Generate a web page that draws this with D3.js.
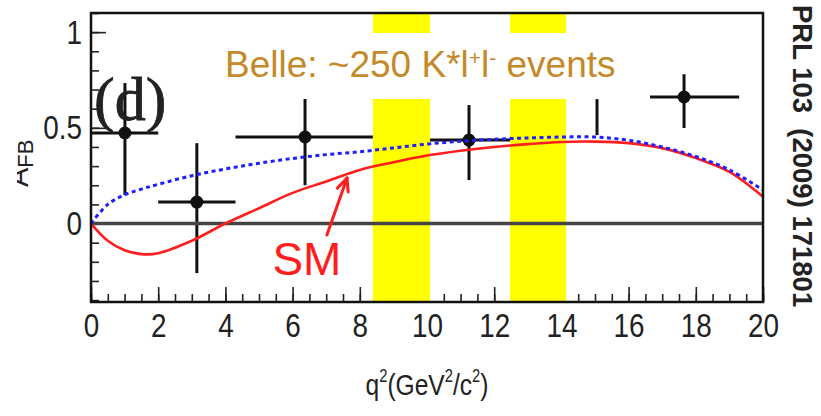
<!DOCTYPE html>
<html>
<head>
<meta charset="utf-8">
<script src="https://cdn.jsdelivr.net/npm/d3@7"></script>
<style>
  html, body { margin: 0; padding: 0; background: #fff; }
  svg { display: block; }
</style>
</head>
<body>
<svg id="chart" width="821" height="416"></svg>
<script>
// Forward-backward asymmetry A_FB versus q^2 (Belle, K* l+ l-)

// Measured bins: centre, bin edges, asymmetry and its error range
const binCentre = [1.01, 3.15, 6.37, 11.25, 17.65];
const binLow    = [0.0, 2.0, 4.3, 10.09, 16.55];
const binHigh   = [2.0, 4.3, 8.68, 12.86, 19.29];
const afbValue  = [0.473, 0.112, 0.452, 0.436, 0.661];
const afbLow    = [0.149, -0.259, 0.20, 0.227, 0.499];
const afbHigh   = [0.734, 0.42, 0.655, 0.619, 0.78];

// Stray error bar segment in the 14.2-16 bin
const strayX    = [15.06];
const strayLow  = [0.462];
const strayHigh = [0.65];

// Theory curves sampled in q^2
const curveQ2   = [0, 0.5, 1, 1.5, 2, 3, 4, 5, 6, 7, 8, 9, 10, 11, 12, 13, 14, 15, 16, 17, 18, 19, 20];
const smAfb     = [0, -0.09, -0.14, -0.16, -0.155, -0.09, 0.0, 0.08, 0.16, 0.22, 0.28, 0.32, 0.355, 0.38, 0.40, 0.415, 0.426, 0.428, 0.42, 0.394, 0.342, 0.27, 0.14];
const flipAfb   = [0, 0.10, 0.15, 0.18, 0.205, 0.25, 0.285, 0.315, 0.34, 0.36, 0.375, 0.395, 0.415, 0.43, 0.44, 0.447, 0.452, 0.452, 0.435, 0.40, 0.35, 0.28, 0.175];

// Charmonium veto windows
const vetoLow  = [8.39, 12.47];
const vetoHigh = [10.09, 14.14];

// Axis ticks
const xMajorTicks = [0, 2, 4, 6, 8, 10, 12, 14, 16, 18, 20];
const xMinorTicks = d3.range(0, 20.01, 0.5);
const yMajorTicks = [0, 0.5, 1];
const yTickLabels = ["0", "0.5", "1"];
const yMinorTicks = d3.range(-0.4, 1.101, 0.1).map(v => +v.toFixed(2));

const svg = d3.select("#chart");
const W = 821, H = 416;
svg.append("rect").attr("width", W).attr("height", H).attr("fill", "#fff");

const frameL = 91, frameR = 763, frameT = 13, frameB = 302;
const x = d3.scaleLinear().domain([0, 20]).range([frameL, frameR]);
const y = d3.scaleLinear().domain([-0.41, 1.1]).range([frameB, frameT]);

const sansFont = "'Liberation Sans', Arial, Helvetica, sans-serif";
const labelSquash = 0.82;   // axis lettering is set in a condensed face

// x axis: ticks pointing into the frame
const gxMinor = svg.append("g").attr("transform", `translate(0,${frameB})`)
  .call(d3.axisBottom(x).tickValues(xMinorTicks).tickSize(-8).tickFormat(""));
const gx = svg.append("g").attr("transform", `translate(0,${frameB})`)
  .call(d3.axisBottom(x).tickValues(xMajorTicks).tickSize(-15).tickPadding(11).tickFormat(d3.format("d")));

// y axis
const gyMinor = svg.append("g").attr("transform", `translate(${frameL},0)`)
  .call(d3.axisLeft(y).tickValues(yMinorTicks).tickSize(-8).tickFormat(""));
const gy = svg.append("g").attr("transform", `translate(${frameL},0)`)
  .call(d3.axisLeft(y).tickValues(yMajorTicks).tickSize(-15).tickPadding(9)
    .tickFormat((d, i) => yTickLabels[i]));

[gxMinor, gx, gyMinor, gy].forEach(g => {
  g.select(".domain").remove();
  g.selectAll(".tick line").attr("stroke", "#222").attr("stroke-width", 1.6);
  g.selectAll("text").attr("font-family", sansFont).attr("font-size", 34).attr("fill", "#222");
});
// condense tick labels around their anchor point
gx.selectAll(".tick text").attr("transform", `scale(${labelSquash},1)`);
gy.selectAll(".tick text").each(function () {
  const t = d3.select(this);
  const tx = +t.attr("x");
  t.attr("transform", `translate(${tx},0) scale(${labelSquash},1) translate(${-tx},0)`);
});

// Data points with error bars
const pts = d3.range(binCentre.length).map(i => ({
  xc: binCentre[i], x0: binLow[i], x1: binHigh[i],
  v: afbValue[i], lo: afbLow[i], hi: afbHigh[i]
}));
const gPts = svg.append("g").attr("stroke", "#111").attr("stroke-width", 3);
gPts.selectAll("line.h").data(pts).join("line").attr("class", "h")
  .attr("x1", d => x(d.x0)).attr("x2", d => x(d.x1))
  .attr("y1", d => y(d.v)).attr("y2", d => y(d.v));
gPts.selectAll("line.v").data(pts).join("line").attr("class", "v")
  .attr("x1", d => x(d.xc)).attr("x2", d => x(d.xc))
  .attr("y1", d => y(d.lo)).attr("y2", d => y(d.hi));
gPts.selectAll("line.s").data(strayX.map((v, i) => ({ xc: v, lo: strayLow[i], hi: strayHigh[i] })))
  .join("line").attr("class", "s")
  .attr("x1", d => x(d.xc)).attr("x2", d => x(d.xc))
  .attr("y1", d => y(d.lo)).attr("y2", d => y(d.hi));
svg.append("g").selectAll("circle").data(pts).join("circle")
  .attr("cx", d => x(d.xc)).attr("cy", d => y(d.v)).attr("r", 6.5).attr("fill", "#111");

// Veto bands
svg.append("g").selectAll("rect").data(vetoLow.map((v, i) => [v, vetoHigh[i]])).join("rect")
  .attr("x", d => x(d[0])).attr("width", d => x(d[1]) - x(d[0]))
  .attr("y", frameT).attr("height", frameB - frameT).attr("fill", "#ffff00");

// Blank strip behind the legend text
svg.append("rect").attr("x", 200).attr("y", 33).attr("width", 450).attr("height", 66).attr("fill", "#fff");

// Zero line
svg.append("line").attr("x1", x(0)).attr("x2", x(20)).attr("y1", y(0)).attr("y2", y(0))
  .attr("stroke", "#444").attr("stroke-width", 3.5);

// Theory curves
const line = (vals) => d3.line().x((d, i) => x(curveQ2[i])).y(d => y(d))
  .curve(d3.curveCatmullRom.alpha(0.5))(vals);
svg.append("path").attr("d", line(smAfb)).attr("fill", "none")
  .attr("stroke", "#ff1e1e").attr("stroke-width", 2.6);
svg.append("path").attr("d", line(flipAfb)).attr("fill", "none")
  .attr("stroke", "#1f1fff").attr("stroke-width", 3).attr("stroke-dasharray", "4,3.5");

// Frame
svg.append("rect").attr("x", frameL).attr("y", frameT).attr("width", frameR - frameL).attr("height", frameB - frameT)
  .attr("fill", "none").attr("stroke", "#111").attr("stroke-width", 2.5);

// SM label with arrow pointing at the red curve
const arrowFrom = [7.02, -0.06], arrowTo = [7.62, 0.238];
const ax0 = x(arrowFrom[0]), ay0 = y(arrowFrom[1]), ax1 = x(arrowTo[0]), ay1 = y(arrowTo[1]);
const ang = Math.atan2(ay1 - ay0, ax1 - ax0);
const headLen = 14, headSpread = 0.42;
const gArrow = svg.append("g").attr("stroke", "#ff1e1e").attr("stroke-width", 3).attr("stroke-linecap", "round");
gArrow.append("line").attr("x1", ax0).attr("y1", ay0).attr("x2", ax1).attr("y2", ay1);
[-headSpread, headSpread].forEach(s => {
  gArrow.append("line").attr("x1", ax1).attr("y1", ay1)
    .attr("x2", ax1 - headLen * Math.cos(ang + s)).attr("y2", ay1 - headLen * Math.sin(ang + s));
});
svg.append("text").attr("x", x(5.4)).attr("y", y(-0.27))
  .attr("font-family", sansFont).attr("font-size", 46).attr("fill", "#ff1e1e").text("SM");

// Panel label
svg.append("text").attr("x", 94).attr("y", 120)
  .attr("font-family", "'Liberation Serif', 'Times New Roman', serif").attr("font-size", 62)
  .attr("fill", "#222").attr("stroke", "#222").attr("stroke-width", 0.8).text("(d)");

// Legend text
const leg = svg.append("text").attr("x", 225).attr("y", 77)
  .attr("font-family", sansFont).attr("font-size", 37).attr("fill", "#c48a2a");
leg.append("tspan").text("Belle: ~250 K*l");
leg.append("tspan").attr("font-size", 21).attr("dy", -12).text("+");
leg.append("tspan").attr("dy", 12).text("l");
leg.append("tspan").attr("font-size", 21).attr("dy", -12).text("-");
leg.append("tspan").attr("dy", 12).text(" events");

// x axis title
const xt = svg.append("text")
  .attr("transform", `translate(427,395) scale(${labelSquash},1)`).attr("text-anchor", "middle")
  .attr("font-family", sansFont).attr("font-size", 30).attr("fill", "#222");
xt.append("tspan").text("q");
xt.append("tspan").attr("font-size", 18).attr("dy", -13).text("2");
xt.append("tspan").attr("dy", 13).text("(GeV");
xt.append("tspan").attr("font-size", 18).attr("dy", -13).text("2");
xt.append("tspan").attr("dy", 13).text("/c");
xt.append("tspan").attr("font-size", 18).attr("dy", -13).text("2");
xt.append("tspan").attr("dy", 13).text(")");

// y axis title, trimmed at the pad edge
svg.append("clipPath").attr("id", "ytitle-clip")
  .append("rect").attr("x", 17).attr("y", 100).attr("width", 40).attr("height", 120);
const yt = svg.append("g").attr("clip-path", "url(#ytitle-clip)")
  .append("text").attr("transform", "translate(28,187) rotate(-90)")
  .attr("font-family", sansFont).attr("font-size", 29).attr("fill", "#222");
yt.append("tspan").text("A");
yt.append("tspan").attr("font-size", 22).attr("dy", 5).text("FB");

// Reference on the right edge
svg.append("text").attr("transform", "translate(793,5) rotate(90)")
  .attr("font-family", sansFont).attr("font-size", 27.5).attr("font-weight", "bold")
  .attr("fill", "#222").attr("xml:space", "preserve").text("PRL 103  (2009) 171801");
</script>
</body>
</html>
